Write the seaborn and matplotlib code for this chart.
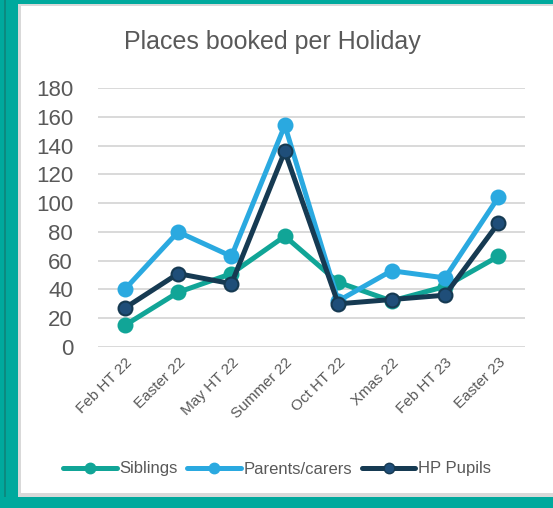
import pandas as pd
import seaborn as sns
import matplotlib.pyplot as plt
from matplotlib.patches import Rectangle
from matplotlib.lines import Line2D

# data
holidays = ['Feb HT 22', 'Easter 22', 'May HT 22', 'Summer 22',
            'Oct HT 22', 'Xmas 22', 'Feb HT 23', 'Easter 23']
siblings = [15, 38, 51, 77, 45, 32, 42, 63]
parents = [40, 80, 63, 154, 32, 53, 48, 104]
hp_pupils = [27, 51, 44, 136, 30, 33, 36, 86]

series_names = ['Siblings', 'Parents/carers', 'HP Pupils']
line_colors = ['#11a597', '#2aa9e0', '#163a52']
face_colors = ['#11a597', '#2aa9e0', '#1f4e79']

df = pd.DataFrame({
    'pos': list(range(len(holidays))) * 3,
    'places': siblings + parents + hp_pupils,
    'series': [s for s in series_names for _ in holidays],
})

sns.set_style('white')
plt.rcParams['font.family'] = ['Liberation Sans', 'DejaVu Sans']
grey = '#595959'
teal = '#00a99d'

W, H = 553, 508
fig = plt.figure(figsize=(W / 100, H / 100), dpi=100, facecolor='white')


def px_rect(x0, y0, x1, y1, color, z=0):
    # rectangle given in pixel coords measured from the top-left corner
    fig.patches.append(Rectangle((x0 / W, 1 - y1 / H), (x1 - x0) / W, (y1 - y0) / H,
                                 transform=fig.transFigure, facecolor=color,
                                 edgecolor='none', zorder=z))


# teal frame with a thin grey shadow inside it
px_rect(18, 4, W, 6, '#d9d9d9')
px_rect(18, 4, 21, 497, '#d9d9d9')
px_rect(18, 493, W, 497, '#d9d9d9')
px_rect(0, 0, W, 4, teal)
px_rect(0, 0, 18, H, teal)
px_rect(4, 0, 6, H, '#0b8a80')
px_rect(0, 497, W, H, teal)

ax = fig.add_axes([98 / W, 1 - 347 / H, 427 / W, 259 / H])
ax.patch.set_alpha(0)

for name, lc, fc in zip(series_names, line_colors, face_colors):
    sns.lineplot(data=df[df['series'] == name], x='pos', y='places', ax=ax,
                 color=lc, linewidth=3.6, marker='o', markersize=10,
                 markerfacecolor=fc, markeredgecolor=lc, markeredgewidth=1.5,
                 sort=False, legend=False)

ax.set_xlim(-0.5, len(holidays) - 0.5)
ax.set_ylim(0, 180)
ax.set_yticks(range(0, 181, 20))
ax.set_xticks(range(len(holidays)))
ax.set_xticklabels(holidays, rotation=45, ha='right', rotation_mode='anchor',
                   fontsize=11, color=grey)
ax.tick_params(axis='y', labelsize=16, labelcolor=grey, length=0, pad=18)
ax.tick_params(axis='x', length=0, pad=6)
ax.yaxis.grid(True, color='#d9d9d9', linewidth=1.4)
ax.set_axisbelow(True)
for sp in ax.spines.values():
    sp.set_visible(False)
ax.set_xlabel('')
ax.set_ylabel('')

fig.text(272 / W, 1 - 42 / H, 'Places booked per Holiday', ha='center',
         va='center', fontsize=18, color=grey)

handles = [Line2D([], [], color=lc, linewidth=3.6, marker='o', markersize=7.5,
                  markerfacecolor=fc, markeredgecolor=lc)
           for lc, fc in zip(line_colors, face_colors)]
fig.legend(handles, series_names, loc='center', bbox_to_anchor=(277 / W, 1 - 469 / H),
           ncol=3, frameon=False, fontsize=12, labelcolor=grey, handlelength=3.2,
           handletextpad=0.15, columnspacing=0.6)

fig.savefig('out.png', dpi=100)
